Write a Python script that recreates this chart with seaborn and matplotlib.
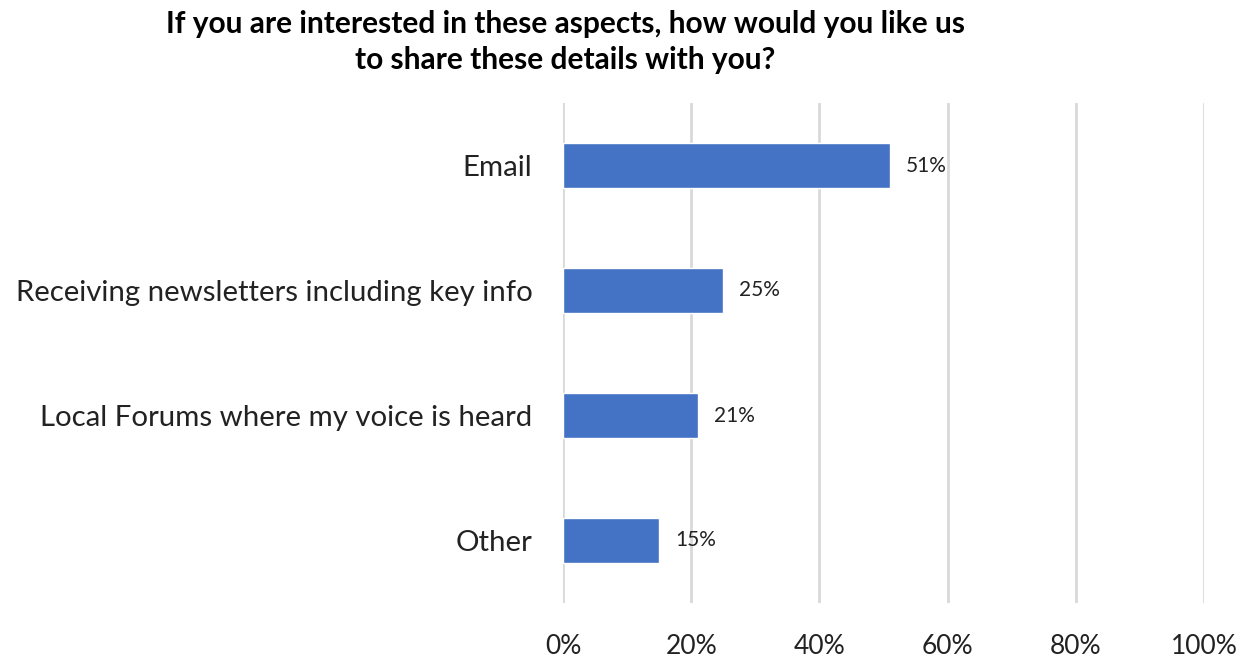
import matplotlib
matplotlib.use("Agg")
import matplotlib.pyplot as plt
import seaborn as sns
import pandas as pd
from matplotlib.ticker import FuncFormatter

categories = [
    "Email",
    "Receiving newsletters including key info",
    "Local Forums where my voice is heard",
    "Other",
]
shares = [51, 25, 21, 15]
x_ticks = [0, 20, 40, 60, 80, 100]
title = "If you are interested in these aspects, how would you like us\nto share these details with you?"

df = pd.DataFrame({"category": categories, "share": shares})

sns.set_theme(style="white")
plt.rcParams["font.family"] = ["Lato", "DejaVu Sans"]

fig = plt.figure(figsize=(12.43, 6.6), dpi=100)
ax = fig.add_axes([563 / 1243, 1 - 603 / 660, (1204 - 563) / 1243, (603 - 103) / 660])

sns.barplot(data=df, x="share", y="category", color="#4472C4", width=0.36,
            saturation=1, ax=ax, zorder=3)

ax.set_xlim(0, 100)
ax.set_ylim(3.5, -0.5)
ax.set_xticks(x_ticks)
ax.xaxis.set_major_formatter(FuncFormatter(lambda v, _: f"{v:.0f}%"))
ax.grid(axis="x", color="#D9D9D9", linewidth=2, zorder=0)
ax.grid(axis="y", visible=False)
for s in ax.spines.values():
    s.set_visible(False)
ax.tick_params(axis="x", length=0, pad=22, labelsize=19, labelcolor="#222222")
ax.tick_params(axis="y", length=0, pad=22, labelsize=21.2, labelcolor="#222222")
ax.set_xlabel("")
ax.set_ylabel("")

for i, v in enumerate(shares):
    ax.text(v + 2.5, i, f"{v}%", va="center", ha="left", fontsize=15, color="#222222")

fig.text(565 / 1243, 1 - 42 / 660, title, ha="center", va="center",
         fontsize=21.5, fontweight="bold", color="#000000", linespacing=1.38)

fig.savefig("out.png", dpi=100, facecolor="white")
